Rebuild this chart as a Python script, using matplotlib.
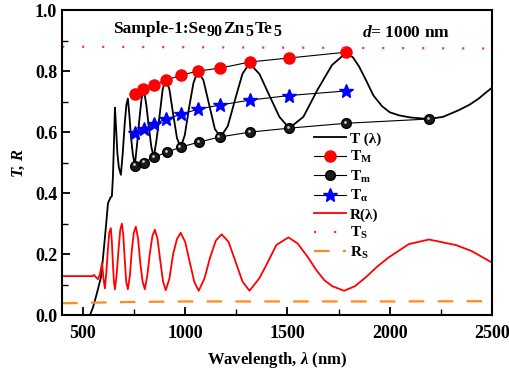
import matplotlib
matplotlib.use('Agg')
import matplotlib.pyplot as plt
from matplotlib.transforms import offset_copy, IdentityTransform
from matplotlib.ticker import MultipleLocator

plt.rcParams['font.family'] = ['Liberation Serif', 'DejaVu Serif']
plt.rcParams['font.weight'] = 'bold'
plt.rcParams['mathtext.fontset'] = 'custom'
plt.rcParams['mathtext.rm'] = 'Liberation Serif:bold'
plt.rcParams['mathtext.it'] = 'Liberation Serif:italic:bold'
plt.rcParams['mathtext.bf'] = 'Liberation Serif:bold'

# Measured transmission T(lambda)
t_wl = [520, 536, 551, 570, 590, 600, 614, 624, 636, 643, 648, 653, 658, 663, 670, 677,
        687, 696, 706, 714, 721, 728, 737, 745, 755, 766, 777, 788, 799, 811, 823, 836,
        848, 862, 877, 891, 906, 924, 942, 961, 979, 999, 1020, 1041, 1062, 1090, 1118,
        1146, 1174, 1209, 1244, 1280, 1315, 1364, 1412, 1461, 1509, 1578, 1648, 1718,
        1787, 1820, 1850, 1884, 1920, 1962, 2000, 2045, 2100, 2191, 2260, 2337, 2390,
        2434, 2470, 2500]
t_val = [0.0, 0.0, 0.026, 0.072, 0.125, 0.19, 0.29, 0.367, 0.385, 0.39, 0.45, 0.56, 0.68,
         0.62, 0.53, 0.485, 0.46, 0.53, 0.63, 0.69, 0.71, 0.66, 0.58, 0.53, 0.49, 0.56,
         0.64, 0.71, 0.74, 0.69, 0.62, 0.55, 0.518, 0.58, 0.66, 0.74, 0.775, 0.74, 0.66,
         0.58, 0.55, 0.59, 0.68, 0.76, 0.80, 0.77, 0.69, 0.61, 0.584, 0.62, 0.705, 0.79,
         0.826, 0.79, 0.72, 0.65, 0.613, 0.65, 0.74, 0.82, 0.86, 0.845, 0.815, 0.77,
         0.72, 0.685, 0.665, 0.655, 0.648, 0.643, 0.65, 0.672, 0.69, 0.71, 0.73, 0.746]

# Measured reflection R(lambda)
r_wl = [400, 550, 556, 562, 575, 585, 595, 602, 609, 616, 623, 630, 638, 643, 648, 653,
        658, 666, 675, 684, 692, 699, 706, 713, 721, 731, 740, 750, 760, 771, 782, 793,
        804, 816, 828, 841, 853, 866, 879, 893, 906, 924, 942, 961, 979, 1001, 1023,
        1045, 1067, 1095, 1123, 1151, 1179, 1213, 1247, 1281, 1315, 1362, 1397, 1446,
        1505, 1550, 1600, 1641, 1680, 1719, 1777, 1830, 1884, 1940, 1996, 2093, 2191,
        2322, 2400, 2500]
r_val = [0.128, 0.128, 0.132, 0.127, 0.118, 0.135, 0.17, 0.12, 0.088, 0.14, 0.21, 0.27,
         0.285, 0.24, 0.17, 0.11, 0.085, 0.13, 0.21, 0.28, 0.30, 0.26, 0.18, 0.11, 0.085,
         0.13, 0.21, 0.27, 0.29, 0.25, 0.17, 0.11, 0.085, 0.13, 0.20, 0.26, 0.28, 0.25,
         0.18, 0.11, 0.082, 0.12, 0.20, 0.25, 0.27, 0.24, 0.175, 0.11, 0.08, 0.12, 0.19,
         0.245, 0.265, 0.24, 0.175, 0.11, 0.08, 0.12, 0.164, 0.23, 0.255, 0.235, 0.19,
         0.148, 0.115, 0.095, 0.08, 0.095, 0.125, 0.16, 0.19, 0.233, 0.248, 0.23, 0.21,
         0.172]

# Envelope points
tm_wl = [755, 799, 848, 911, 979, 1067, 1169, 1318, 1509, 1787, 2191]
tm_val = [0.49, 0.50, 0.518, 0.534, 0.551, 0.567, 0.584, 0.60, 0.613, 0.629, 0.643]
tM_wl = [755, 794, 848, 906, 979, 1062, 1173, 1318, 1509, 1787]
tM_val = [0.725, 0.74, 0.754, 0.77, 0.786, 0.80, 0.81, 0.83, 0.843, 0.862]
ta_wl = [755, 799, 848, 906, 979, 1062, 1173, 1318, 1509, 1787]
ta_val = [0.597, 0.61, 0.626, 0.643, 0.658, 0.675, 0.689, 0.705, 0.72, 0.735]

# Substrate
ts_wl = [400, 2500]
ts_val = [0.880, 0.874]
rs_wl = [400, 700, 1000, 1500, 2000, 2500]
rs_val = [0.039, 0.043, 0.045, 0.045, 0.045, 0.046]

# sample name pieces (text, is_subscript)
title_parts = [('Sample-1:Se', False), ('90', True), ('Zn', False), ('5', True),
               ('Te', False), ('5', True)]

fig = plt.figure(figsize=(5.09, 3.73), dpi=100)
ax = fig.add_axes([0.122, 0.155, 0.845, 0.818])

ax.plot(t_wl, t_val, color='black', lw=1.3, label='T (λ)')
ax.plot(tM_wl, tM_val, color='black', lw=0.8, marker='o', ms=8,
        mfc='red', mec='red', label=r'T$_\mathrm{M}$')
ax.plot(tm_wl, tm_val, color='black', lw=0.8, marker='o', ms=7,
        mfc='#1a1a1a', mec='black', label=r'T$_\mathrm{m}$')
# little shine on the black balls
shine = offset_copy(ax.transData, fig=fig, x=-1.2, y=1.2, units='dots')
ax.plot(tm_wl, tm_val, ls='none', marker='o', ms=2, mfc='#cccccc', mec='none',
        transform=shine)
ax.plot(ta_wl, ta_val, color='black', lw=0.8, marker='*', ms=10,
        mfc='blue', mec='blue', label=r'T$_\mathrm{\alpha}$')
ax.plot(r_wl, r_val, color='red', lw=1.3, label='R(λ)')
ax.plot(ts_wl, ts_val, color='#ff2a9a', lw=1.6, ls=(0, (1, 8)), label=r'T$_\mathrm{S}$')
ax.plot(rs_wl, rs_val, color='#ff8c1a', lw=1.6, ls=(0, (7, 6)), label=r'R$_\mathrm{S}$')

ax.set_xlim(400, 2500)
ax.set_ylim(0.0, 1.0)
ax.xaxis.set_major_locator(MultipleLocator(500))
ax.xaxis.set_minor_locator(MultipleLocator(250))
ax.yaxis.set_major_locator(MultipleLocator(0.2))
ax.yaxis.set_minor_locator(MultipleLocator(0.1))
ax.tick_params(which='major', direction='in', length=6, width=1.3, labelsize=13,
               top=False, right=False)
ax.tick_params(axis='x', which='major', pad=7)
ax.tick_params(which='minor', direction='in', length=4, width=1.0,
               top=False, right=False)
ax.yaxis.set_major_formatter(plt.FormatStrFormatter('%.1f'))
for sp in ax.spines.values():
    sp.set_linewidth(1.5)

ax.set_xlabel(r'Wavelength, $\lambda$ (nm)', fontsize=12, fontweight='bold', labelpad=6)
ax.set_ylabel('T, R', fontsize=12, fontweight='bold', fontstyle='italic', labelpad=6)

# sample name, subscripts nearly full size like the original
renderer = fig.canvas.get_renderer()
x0, y0 = ax.transData.transform((648, 0.925))
for txt, sub in title_parts:
    t = ax.text(x0, y0 - (3 if sub else 0), txt, transform=IdentityTransform(),
                fontsize=11.5 if sub else 12.5, fontweight='bold',
                va='baseline', ha='left')
    x0 = t.get_window_extent(renderer).x1 + 0.8

ax.text(1865, 0.925, r'$d$= 1000 nm', fontsize=12.5, fontweight='bold', va='center',
        ha='left')

ax.legend(loc='upper left', bbox_to_anchor=(0.585, 0.60), frameon=False, fontsize=11,
          handlelength=2.1, handletextpad=0.25, labelspacing=0.22, borderpad=0,
          borderaxespad=0)

fig.savefig('out.png', dpi=100)
